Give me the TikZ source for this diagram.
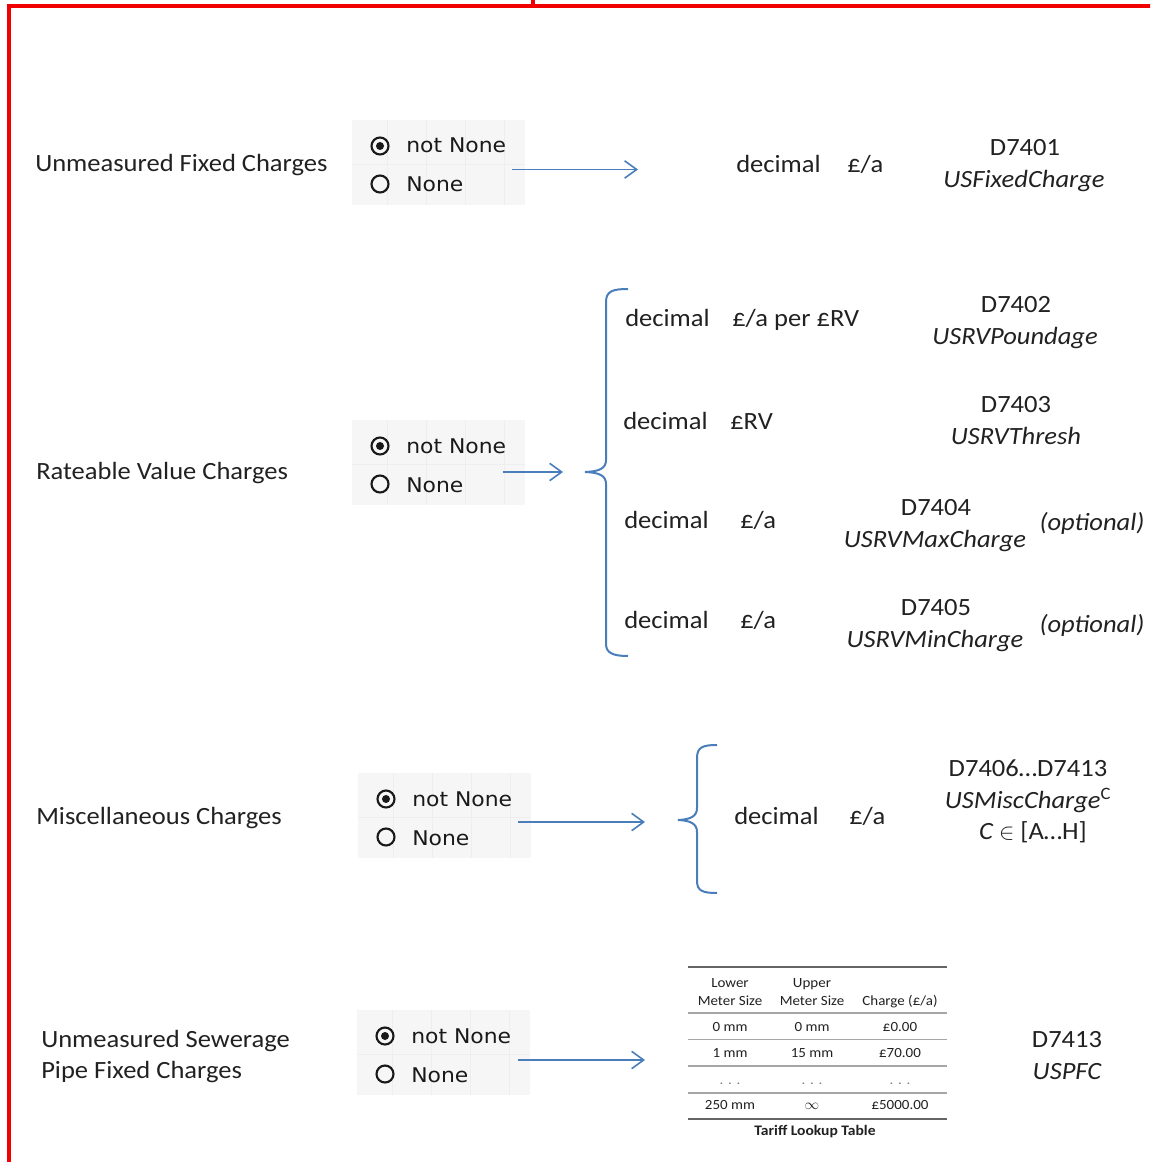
\documentclass[tikz,border=0pt]{standalone}
\usepackage{fontspec}
\setmainfont{Carlito}[FakeStretch=1.07]
\newfontfamily\radiofont{DejaVu Sans}[FakeStretch=1.08]
\usetikzlibrary{arrows.meta}
\definecolor{bluec}{RGB}{74,126,187}
\definecolor{txt}{RGB}{33,33,33}
\definecolor{framec}{RGB}{240,0,0}
\tikzset{
 lbl/.style={anchor=base west, inner sep=0pt, text=txt, font=\fontsize{18.6}{22}\selectfont},
 lblc/.style={anchor=base, inner sep=0pt, text=txt, font=\fontsize{18.6}{22}\selectfont},
 radiotxt/.style={anchor=base west, inner sep=0pt, text=black!90, font=\radiofont\fontsize{15.2}{18}\selectfont},
 radiobox/.style={anchor=north west, fill=gray!7, minimum width=173*0.75pt, minimum height=85*0.75pt, inner sep=0pt},
 radioc/.style={circle, draw=black!90, line width=1.6pt, minimum size=17*0.75pt, inner sep=0pt},
 radiodot/.style={circle, fill=black!90, minimum size=8*0.75pt, inner sep=0pt},
 gridl/.style={draw=gray!13, line width=0.5pt},
 arr/.style={draw=bluec, line width=1.2pt, -{Straight Barb[length=9pt,width=13pt,line width=1.2pt]}},
 bracec/.style={draw=bluec, line width=1.5pt},
 tbl/.style={anchor=base, inner sep=0pt, text=txt, font=\fontsize{10.5}{12}\selectfont},
 rulethin/.style={draw=gray!70, line width=1.1pt},
 rulethick/.style={draw=gray!80!black, line width=1.6pt},
}
\newcommand\radiogrp[3]{%
 \node[radiobox] (#1) at (#2,#3) {};
 \begin{scope}[shift={(#2,#3)}]
  \draw[gridl] (35,0)--(35,85) (74,0)--(74,85) (113,0)--(113,85) (152,0)--(152,85) (0,44)--(173,44);
  \node[radioc] (#1c1) at (28,26) {};
  \node[radiodot] (#1d1) at (28,26) {};
  \node[radioc] (#1c2) at (28,64) {};
  \node[radiotxt] (#1t1) at (54,33) {not None};
  \node[radiotxt] (#1t2) at (54,72) {None};
 \end{scope}}
\begin{document}
\begin{tikzpicture}[x=0.75pt,y=-0.75pt]
\useasboundingbox (0,0) rectangle (1150,1162);
\begin{scope}
 \clip (0,0) rectangle (1150,1162);
 \draw[framec, line width=2.3pt] (9,1175) -- (9,6) -- (1160,6);
 \draw[framec, line width=2.3pt] (533,6) -- (533,-5);
\end{scope}

% ---------- Row 1
\node[lbl] (l1) at (35,172) {Unmeasured Fixed Charges};
\radiogrp{rb1}{352}{120}
\coordinate (a1s) at (512,169.5);
\coordinate (a1e) at (638,169.5);
\draw[arr] (a1s) -- (a1e);
\node[lbl] (t1a) at (736,173) {decimal};
\node[lbl] (t1b) at (847,173) {£/a};
\node[lblc] (d1) at (1025,156) {D7401};
\node[lblc] (v1) at (1024,188) {\itshape USFixedCharge};

% ---------- Row 2
\node[lbl] (l2) at (36,479) {Rateable Value Charges};
\radiogrp{rb2}{352}{420}
\coordinate (a2s) at (503,472);
\coordinate (a2e) at (563,472);
\draw[arr] (a2s) -- (a2e);
\coordinate (b1top) at (628,289);
\coordinate (b1tip) at (585,472);
\coordinate (b1bot) at (628,656);
\draw[bracec] (b1top) .. controls (613,289) and (606,291) .. (606,302) -- (606,460)
  .. controls (606,468) and (600,471.5) .. (b1tip)
  .. controls (600,472.5) and (606,476) .. (606,484) -- (606,644)
  .. controls (606,653) and (613,656) .. (b1bot);

\node[lbl] (t2a) at (625,326) {decimal};
\node[lbl] (t2b) at (732,326) {£/a per £RV};
\node[lblc] (d2) at (1016,312) {D7402};
\node[lblc] (v2) at (1015,344) {\itshape USRVPoundage};

\node[lbl] (t3a) at (623,429) {decimal};
\node[lbl] (t3b) at (730,429) {£RV};
\node[lblc] (d3) at (1016,412) {D7403};
\node[lblc] (v3) at (1016,444) {\itshape USRVThresh};

\node[lbl] (t4a) at (624,528) {decimal};
\node[lbl] (t4b) at (740,528) {£/a};
\node[lblc] (d4) at (936,515) {D7404};
\node[lblc] (v4) at (935,547) {\itshape USRVMaxCharge};
\node[lblc] (o4) at (1092,530) {\itshape (optional)};

\node[lbl] (t5a) at (624,628) {decimal};
\node[lbl] (t5b) at (740,628) {£/a};
\node[lblc] (d5) at (936,615) {D7405};
\node[lblc] (v5) at (935,647) {\itshape USRVMinCharge};
\node[lblc] (o5) at (1092,632) {\itshape (optional)};

% ---------- Row 3
\node[lbl] (l3) at (36,824) {Miscellaneous Charges};
\radiogrp{rb3}{358}{773}
\coordinate (a3s) at (518,822);
\coordinate (a3e) at (645,822);
\draw[arr] (a3s) -- (a3e);
\coordinate (b2top) at (717,745);
\coordinate (b2tip) at (678,820);
\coordinate (b2bot) at (717,893);
\draw[bracec] (b2top) .. controls (703,745) and (697,747) .. (697,758) -- (697,808)
  .. controls (697,816) and (691,819.5) .. (b2tip)
  .. controls (691,820.5) and (697,824) .. (697,832) -- (697,881)
  .. controls (697,891) and (703,893) .. (b2bot);
\node[lbl] (t6a) at (734,824) {decimal};
\node[lbl] (t6b) at (849,824) {£/a};
\node[lblc] (d6) at (1028,776) {D7406…D7413};
\node[lblc] (v6) at (1028,808) {{\itshape USMiscCharge}\textsuperscript{C}};
\node[lblc] (c6) at (1033,839) {{\itshape C} $\in$ [A…H]};

% ---------- Row 4
\node[lbl] (l4a) at (41,1047) {Unmeasured Sewerage};
\node[lbl] (l4b) at (41,1078) {Pipe Fixed Charges};
\radiogrp{rb4}{357}{1010}
\coordinate (a4s) at (518,1060);
\coordinate (a4e) at (645,1060);
\draw[arr] (a4s) -- (a4e);

% table
\draw[rulethick] (688,967) -- (947,967);
\draw[rulethin] (688,1013) -- (947,1013);
\draw[rulethin] (688,1039.5) -- (947,1039.5);
\draw[rulethin] (688,1066) -- (947,1066);
\draw[rulethin] (688,1093) -- (947,1093);
\draw[rulethick] (688,1119) -- (947,1119);
\node[tbl] (h1a) at (730,987) {Lower};
\node[tbl] (h1b) at (730,1005) {Meter Size};
\node[tbl] (h2a) at (812,987) {Upper};
\node[tbl] (h2b) at (812,1005) {Meter Size};
\node[tbl] (h3) at (900,1005) {Charge (£/a)};
\node[tbl] (r1a) at (730,1031.5) {0 mm};
\node[tbl] (r1b) at (812,1031.5) {0 mm};
\node[tbl] (r1c) at (900,1031.5) {£0.00};
\node[tbl] (r2a) at (730,1057.5) {1 mm};
\node[tbl] (r2b) at (812,1057.5) {15 mm};
\node[tbl] (r2c) at (900,1057.5) {£70.00};
\node[tbl, text=gray] (r3a) at (730,1084) {.\,\,.\,\,.};
\node[tbl, text=gray] (r3b) at (812,1084) {.\,\,.\,\,.};
\node[tbl, text=gray] (r3c) at (900,1084) {.\,\,.\,\,.};
\node[tbl] (r4a) at (730,1109.5) {250 mm};
\node[tbl] (r4b) at (812,1109.5) {$\infty$};
\node[tbl] (r4c) at (900,1109.5) {£5000.00};
\node[tbl, font=\fontsize{10.9}{12}\selectfont\bfseries] (cap) at (815,1135) {Tariff Lookup Table};

\node[lblc] (d7) at (1067,1047) {D7413};
\node[lblc] (v7) at (1067,1079) {\itshape USPFC};
\end{tikzpicture}
\end{document}
